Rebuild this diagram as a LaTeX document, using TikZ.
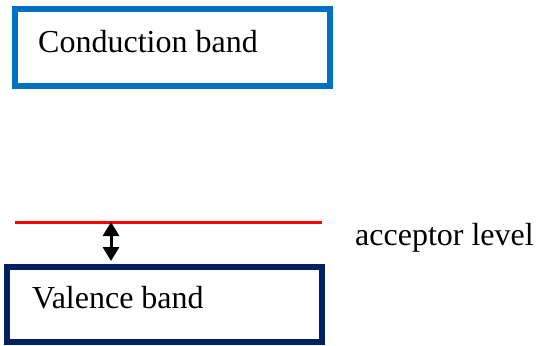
\documentclass[tikz,border=0pt]{standalone}
\usepackage{fontspec}
\setmainfont{Liberation Serif}
\usetikzlibrary{arrows.meta}
\definecolor{cbblue}{HTML}{0070C0}
\definecolor{vbnavy}{HTML}{002060}
\begin{document}
\begin{tikzpicture}[x=1bp,y=-1bp,
  bandbox/.style={draw, line width=6bp, inner sep=0pt, minimum width=315bp, fill=white},
  lbl/.style={font=\fontsize{32bp}{38bp}\selectfont, anchor=base west, inner sep=0pt, text=black},
  gap/.style={line width=3bp, {Triangle[length=14bp,width=16bp]}-{Triangle[length=14bp,width=16bp]}}]
\useasboundingbox (0,0) rectangle (537,345);
\node[bandbox, draw=cbblue, minimum height=77bp] (cb) at (172.5,47.5) {};
\node[bandbox, draw=vbnavy, minimum height=75bp] (vb) at (164.5,304.5) {};
\node[lbl] (cbt) at (38,52) {Conduction band};
\node[lbl] (vbt) at (32,308) {Valence band};
\node[lbl] (acc) at (355,245) {acceptor level};
\coordinate (aL) at (15,222);
\coordinate (aR) at (322,222);
\draw[red, line width=3bp] (aL) -- (aR);
\coordinate (gt) at (111,222);
\draw[gap, shorten >=3bp] (gt) -- (gt |- vb.north);
\end{tikzpicture}
\end{document}
